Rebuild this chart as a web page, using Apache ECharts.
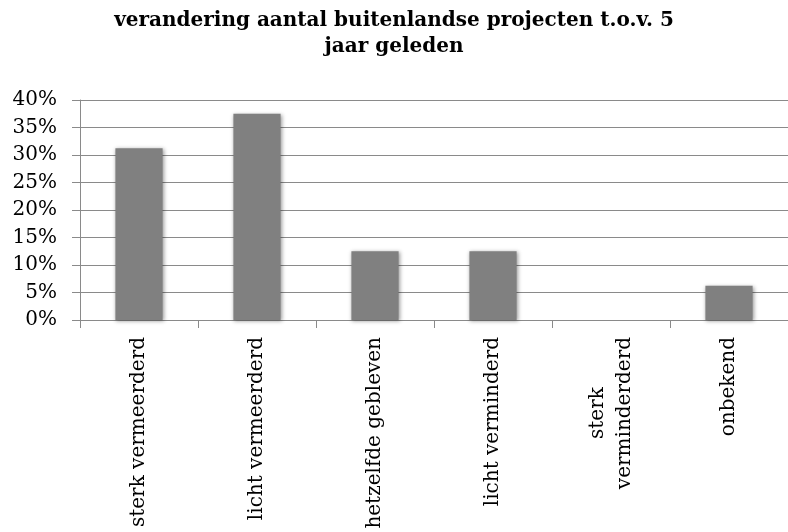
<!DOCTYPE html>
<html>
<head>
<meta charset="utf-8">
<script src="https://cdn.jsdelivr.net/npm/echarts@6/dist/echarts.min.js"></script>
<style>
html,body{margin:0;padding:0;background:#fff;}
#chart{width:788px;height:532px;}
</style>
</head>
<body>
<div id="chart"></div>
<script>
const titleText = 'verandering aantal buitenlandse projecten t.o.v. 5\njaar geleden';
const categories = ['sterk vermeerderd', 'licht vermeerderd', 'hetzelfde gebleven', 'licht verminderd', 'sterk\nverminderderd', 'onbekend'];
const percentages = [31.25, 37.5, 12.5, 12.5, 0, 6.25];
const yMin = 0, yMax = 40, yStep = 5;

const chart = echarts.init(document.getElementById('chart'));
const serif = 'DejaVu Serif';
chart.setOption({
  animation: false,
  backgroundColor: '#ffffff',
  title: {
    text: titleText,
    left: 'center',
    top: 3,
    textStyle: { fontFamily: serif, fontWeight: 'bold', fontSize: 20, lineHeight: 26, color: '#000' }
  },
  grid: { left: 80, right: -4, top: 100, bottom: 212, containLabel: false },
  xAxis: {
    type: 'category',
    data: categories,
    axisLine: { lineStyle: { color: '#8a8a8a', width: 1 } },
    axisTick: { show: true, length: 8, lineStyle: { color: '#8a8a8a' } },
    axisLabel: {
      rotate: 90,
      interval: 0,
      margin: 17,
      fontFamily: serif,
      fontSize: 20,
      color: '#000',
      formatter: function (v) {
        if (v.indexOf('\n') >= 0) {
          return v.split('\n').map(function (l) { return '{c|' + l + '}'; }).join('\n');
        }
        return v;
      },
      rich: { c: { align: 'center', fontFamily: serif, fontSize: 20, color: '#000', lineHeight: 27 } }
    }
  },
  yAxis: {
    type: 'value',
    min: yMin,
    max: yMax,
    interval: yStep,
    axisLine: { show: true, lineStyle: { color: '#8a8a8a', width: 1 } },
    axisTick: { show: true, length: 8, lineStyle: { color: '#8a8a8a' } },
    splitLine: { show: true, lineStyle: { color: '#8a8a8a', width: 1 } },
    axisLabel: {
      margin: 23,
      fontFamily: serif,
      fontSize: 20,
      color: '#000',
      formatter: '{value}%'
    }
  },
  series: [{
    type: 'bar',
    data: percentages,
    barWidth: '40%',
    itemStyle: {
      color: '#808080',
      shadowColor: 'rgba(0,0,0,0.4)',
      shadowBlur: 4,
      shadowOffsetX: 1,
      shadowOffsetY: 1
    }
  }]
});
</script>
</body>
</html>
